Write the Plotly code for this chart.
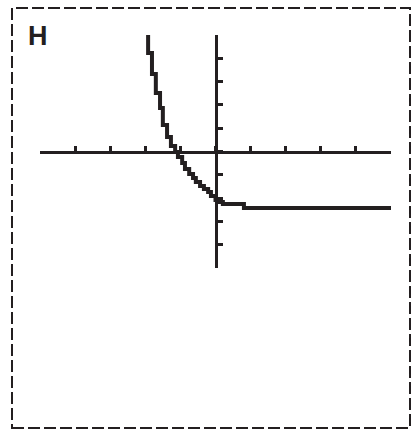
import plotly.graph_objects as go

# Window (calculator-style): x and y from -5 to 5, tick every 1
x_range = [-5, 5]
y_range = [-5, 5]
tick_vals = [-5, -4, -3, -2, -1, 0, 1, 2, 3, 4, 5]

# Pixelated curve (column x, top of step y)
curve_x = [-1.92, -1.81, -1.70, -1.58, -1.50, -1.38, -1.27, -1.15, -1.07, -0.95,
           -0.87, -0.75, -0.64, -0.56, -0.44, -0.33, -0.21, -0.13, 0.00, 0.10,
           0.21, 0.33, 0.81, 5.00]
curve_y = [5.00, 4.23, 3.33, 2.51, 1.87, 1.14, 0.62, 0.24, -0.02, -0.24,
           -0.49, -0.75, -0.97, -1.14, -1.31, -1.48, -1.61, -1.74, -1.91, -2.08,
           -2.17, -2.25, -2.25, -2.43]

label = "H"
ink = "#231f20"

fig = go.Figure()
fig.add_trace(go.Scatter(x=curve_x, y=curve_y, mode="lines",
                         line=dict(color=ink, width=4, shape="vh"),
                         hoverinfo="skip", showlegend=False))

axis_common = dict(showgrid=False, zeroline=False, showline=True, linecolor=ink,
                   linewidth=3, ticks="inside", ticklen=5, tickwidth=3,
                   tickcolor=ink, showticklabels=False, tickvals=tick_vals,
                   anchor="free", position=0.5, fixedrange=True)
fig.update_xaxes(range=x_range, **axis_common)
fig.update_yaxes(range=y_range, **axis_common)

L, T, W, H = 40, 35, 351, 233
fig.update_layout(
    width=412, height=430,
    margin=dict(l=L, r=412 - L - W, t=T, b=430 - T - H),
    paper_bgcolor="white", plot_bgcolor="white",
    showlegend=False,
)

def px2paper_x(px):
    return (px - L) / W

def px2paper_y(py):
    return (T + H - py) / H

fig.add_shape(type="rect", xref="paper", yref="paper",
              x0=px2paper_x(12), x1=px2paper_x(410),
              y0=px2paper_y(428), y1=px2paper_y(8),
              line=dict(color=ink, width=2, dash="12px,4px"),
              fillcolor="rgba(0,0,0,0)", layer="below")

fig.add_annotation(text=f"<b>{label}</b>", xref="paper", yref="paper",
                   x=px2paper_x(38), y=px2paper_y(36),
                   xanchor="center", yanchor="middle", showarrow=False,
                   font=dict(family="Liberation Sans, Arial, sans-serif",
                             size=27, color=ink))

fig.write_html("out.html", config={"displayModeBar": False},
               post_script="document.body.style.margin='0';document.body.style.padding='0';document.body.style.overflow='hidden';")
